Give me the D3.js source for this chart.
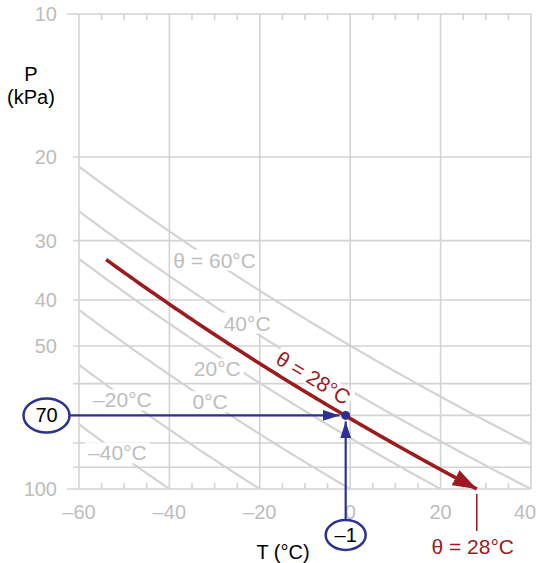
<!DOCTYPE html>
<html lang="en">
<head>
<meta charset="UTF-8">
<script src="https://d3js.org/d3.v7.min.js"></script>
<style>
    body { margin: 0; background: #fff; }
    svg { display: block; font-family: "Liberation Sans", Arial, Helvetica, sans-serif; }
</style>
</head>
<body>
<div id="chart"></div>
<script>
    // ---- data ----
    const tempTicks = [-60, -40, -20, 0, 20, 40];
    const tempMinor = d3.range(-55, 40, 5).filter(t => t % 20 !== 0);
    const presGrid = [10, 20, 30, 40, 50, 60, 70, 80, 90, 100];
    const presLabels = [10, 20, 30, 40, 50, 100];
    const thetas = [-40, -20, 0, 20, 40, 60];          // dry adiabats, degC
    const thetaLabels = [
        { text: "θ = 60°C", T: -30, P: 33 },
        { text: "40°C", T: -22.8, P: 44.8 },
        { text: "20°C", T: -29.4, P: 55.9 },
        { text: "0°C", T: -31, P: 65.6 },
        { text: "–20°C", T: -50.4, P: 65 },
        { text: "–40°C", T: -51.5, P: 84 }
    ];
    const parcel = { T: -1, P: 70, theta: 28, startT: -54 };

    const width = 537, height = 563;
    const gray = "#d3d3d3", grayText = "#bdbdbd";
    const red = "#9b1b1f", blue = "#2e3192";

    const x = d3.scaleLinear().domain([-60, 40]).range([79, 531]);
    const y = d3.scaleLog().domain([10, 100]).range([14, 489]);

    // temperature on an adiabat (Poisson)
    const kappa = 0.2857;
    const tOnTheta = (theta, p) => (theta + 273.15) * Math.pow(p / 100, kappa) - 273.15;
    const pOnTheta = (theta, t) => 100 * Math.pow((t + 273.15) / (theta + 273.15), 1 / kappa);

    const svg = d3.select("#chart").append("svg")
        .attr("width", width)
        .attr("height", height);

    const defs = svg.append("defs");
    defs.append("clipPath").attr("id", "plot")
        .append("rect")
        .attr("x", x(-60)).attr("y", y(10))
        .attr("width", x(40) - x(-60)).attr("height", y(100) - y(10));

    function arrowMarker(id, color, len, wid) {
        defs.append("marker")
            .attr("id", id)
            .attr("markerUnits", "userSpaceOnUse")
            .attr("viewBox", `0 ${-wid / 2} ${len} ${wid}`)
            .attr("refX", len).attr("refY", 0)
            .attr("markerWidth", len).attr("markerHeight", wid)
            .attr("orient", "auto")
            .append("path")
            .attr("d", `M0,${-wid / 2}L${len},0L0,${wid / 2}Z`)
            .attr("fill", color);
    }
    arrowMarker("arrowRed", red, 24, 17);
    arrowMarker("arrowBlue", blue, 17, 11);

    // ---- grid ----
    const grid = svg.append("g").attr("stroke", gray).attr("stroke-width", 1.6);
    grid.selectAll("line.h")
        .data(presGrid)
        .join("line")
        .attr("class", "h")
        .attr("x1", d => (d === 10 || d === 100) ? x(-60) - 12 : x(-60) - 6)
        .attr("x2", x(40))
        .attr("y1", d => y(d)).attr("y2", d => y(d));
    grid.selectAll("line.v")
        .data(tempTicks)
        .join("line")
        .attr("class", "v")
        .attr("x1", d => x(d)).attr("x2", d => x(d))
        .attr("y1", y(10)).attr("y2", y(100));
    grid.selectAll("line.mb")
        .data(tempMinor)
        .join("line")
        .attr("x1", d => x(d)).attr("x2", d => x(d))
        .attr("y1", y(100)).attr("y2", y(100) - 6);
    grid.selectAll("line.mt")
        .data(tempMinor)
        .join("line")
        .attr("class", "mt")
        .attr("x1", d => x(d)).attr("x2", d => x(d))
        .attr("y1", y(10)).attr("y2", y(10) + 6);

    // ---- dry adiabats ----
    const pSamples = d3.range(10, 100.01, 0.5);
    const line = d3.line()
        .x(d => x(d[0]))
        .y(d => y(d[1]));

    svg.append("g")
        .attr("clip-path", "url(#plot)")
        .selectAll("path")
        .data(thetas)
        .join("path")
        .attr("d", th => line(pSamples.map(p => [tOnTheta(th, p), p])))
        .attr("fill", "none")
        .attr("stroke", gray)
        .attr("stroke-width", 2.2);

    // ---- tick labels ----
    const labels = svg.append("g")
        .attr("fill", grayText)
        .attr("font-size", 20);
    labels.selectAll("text.y")
        .data(presLabels)
        .join("text")
        .attr("x", 57)
        .attr("y", d => y(d))
        .attr("dy", "0.35em")
        .attr("text-anchor", "end")
        .text(d => d);
    labels.selectAll("text.x")
        .data(tempTicks)
        .join("text")
        .attr("class", "x")
        .attr("x", d => x(d) + (d === 40 ? -6 : 0))
        .attr("y", 519)
        .attr("text-anchor", "middle")
        .text(d => d < 0 ? "–" + Math.abs(d) : d);

    // ---- adiabat labels with white backing ----
    const thLab = svg.append("g").selectAll("g")
        .data(thetaLabels)
        .join("g")
        .attr("transform", d => `translate(${x(d.T)},${y(d.P)})`);
    thLab.append("text")
        .attr("text-anchor", "middle")
        .attr("dy", "0.35em")
        .attr("font-size", 21)
        .attr("fill", grayText)
        .text(d => d.text);
    thLab.each(function () {
        const g = d3.select(this);
        const bb = g.select("text").node().getBBox();
        g.insert("rect", "text")
            .attr("x", bb.x - 3).attr("y", bb.y + 1)
            .attr("width", bb.width + 6).attr("height", bb.height - 2)
            .attr("fill", "#fff");
    });

    // ---- theta = 28 parcel adiabat ----
    const redPts = d3.range(pOnTheta(parcel.theta, parcel.startT), 100.001, 0.5)
        .map(p => [tOnTheta(parcel.theta, p), p]);
    redPts[redPts.length - 1] = [parcel.theta, 100];
    svg.append("path")
        .attr("d", line(redPts))
        .attr("fill", "none")
        .attr("stroke", red)
        .attr("stroke-width", 3.6)
        .attr("marker-end", "url(#arrowRed)");

    // rotated label along the red curve
    const labT = -10;
    const labP = pOnTheta(parcel.theta, labT);
    const p1 = [x(labT - 2), y(pOnTheta(parcel.theta, labT - 2))];
    const p2 = [x(labT + 2), y(pOnTheta(parcel.theta, labT + 2))];
    const ang = Math.atan2(p2[1] - p1[1], p2[0] - p1[0]) * 180 / Math.PI;
    const redLab = svg.append("g")
        .attr("transform", `translate(${x(labT)},${y(labP)}) rotate(${ang}) translate(0,-16)`);
    const redText = redLab.append("text")
        .attr("text-anchor", "middle")
        .attr("dy", "0.35em")
        .attr("font-size", 21)
        .attr("fill", red)
        .text("θ = 28°C");
    const rb = redText.node().getBBox();
    redLab.insert("rect", "text")
        .attr("x", rb.x - 2).attr("y", rb.y + 2)
        .attr("width", rb.width + 4).attr("height", rb.height - 4)
        .attr("fill", "#fff");

    // red callout below the axis
    svg.append("line")
        .attr("x1", x(parcel.theta)).attr("x2", x(parcel.theta))
        .attr("y1", y(100) + 5).attr("y2", 531)
        .attr("stroke", red).attr("stroke-width", 1.5);
    svg.append("text")
        .attr("x", x(parcel.theta) - 4).attr("y", 554)
        .attr("text-anchor", "middle")
        .attr("font-size", 21)
        .attr("fill", red)
        .text("θ = 28°C");

    // ---- axis titles ----
    svg.append("text").attr("x", 31).attr("y", 81).attr("text-anchor", "middle")
        .attr("font-size", 20).text("P");
    svg.append("text").attr("x", 31).attr("y", 104).attr("text-anchor", "middle")
        .attr("font-size", 20).text("(kPa)");
    svg.append("text").attr("x", 283).attr("y", 559).attr("text-anchor", "middle")
        .attr("font-size", 20).text("T (°C)");

    // ---- parcel readout (blue) ----
    const ellP = { cx: 46.5, cy: y(parcel.P), rx: 23, ry: 17 };
    const ellT = { cx: x(parcel.T), cy: 535, rx: 20, ry: 15 };

    svg.append("line")
        .attr("x1", ellP.cx + ellP.rx).attr("x2", x(parcel.T) - 6)
        .attr("y1", y(parcel.P)).attr("y2", y(parcel.P))
        .attr("stroke", blue).attr("stroke-width", 2.2)
        .attr("marker-end", "url(#arrowBlue)");
    svg.append("line")
        .attr("x1", x(parcel.T)).attr("x2", x(parcel.T))
        .attr("y1", ellT.cy - ellT.ry).attr("y2", y(parcel.P) + 6)
        .attr("stroke", blue).attr("stroke-width", 2.2)
        .attr("marker-end", "url(#arrowBlue)");
    svg.append("circle")
        .attr("cx", x(parcel.T)).attr("cy", y(parcel.P)).attr("r", 4.5)
        .attr("fill", blue);

    [[ellP, String(parcel.P)], [ellT, "–" + Math.abs(parcel.T)]].forEach(([e, txt]) => {
        svg.append("ellipse")
            .attr("cx", e.cx).attr("cy", e.cy).attr("rx", e.rx).attr("ry", e.ry)
            .attr("fill", "#fff").attr("stroke", blue).attr("stroke-width", 2.5);
        svg.append("text")
            .attr("x", e.cx).attr("y", e.cy).attr("dy", "0.35em")
            .attr("text-anchor", "middle")
            .attr("font-size", 20)
            .text(txt);
    });
</script>
</body>
</html>
